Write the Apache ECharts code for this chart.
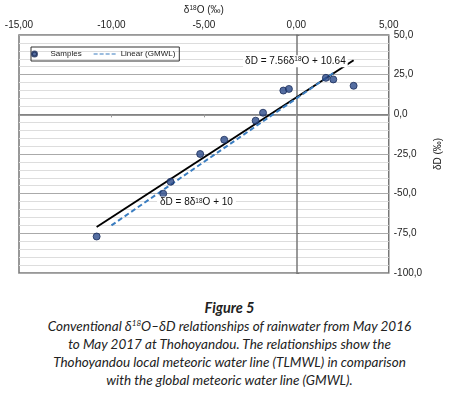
<!DOCTYPE html>
<html>
<head>
<meta charset="utf-8">
<script src="https://cdn.jsdelivr.net/npm/echarts@6/dist/echarts.min.js"></script>
<style>
  body { margin: 0; background: #fff; }
  #chart { position: absolute; left: 0; top: 0; width: 451px; height: 290px; }
  .caption {
    position: absolute; left: 4px; top: 299px; width: 451px;
    text-align: center; font-family: Lato, "Open Sans", sans-serif;
    font-style: italic; font-size: 13.5px; line-height: 18px; color: #222;
  }
  .caption b { font-size: 14.5px; }
  .caption sup { font-size: 8px; line-height: 0; }
</style>
</head>
<body>
<div id="chart"></div>
<div class="caption">
  <b>Figure 5</b><br>
  Conventional δ<sup>18</sup>O–δD relationships of rainwater from May 2016<br>
  to May 2017 at Thohoyandou. The relationships show the<br>
  Thohoyandou local meteoric water line (TLMWL) in comparison<br>
  with the global meteoric water line (GMWL).
</div>
<script>
// 样本数据 δ18O / δD (‰)
const sampleO18 = [-10.8, -7.2, -6.8, -5.2, -3.9, -2.2, -1.8, -0.7, -0.4, 1.6, 2.0, 3.1];
const sampleD = [-77, -50, -42.5, -25, -16, -4, 1, 15, 16, 23, 22, 18];

// TLMWL: δD = 7.56δ18O + 10.64 (端点)
const tlmwlX = [-10.8, 3.1];
const tlmwlY = [-71.0, 34.1];

// GMWL: δD = 8δ18O + 10 (端点)
const gmwlX = [-10.0, 2.0];
const gmwlY = [-70.0, 26.0];

const xTicks = { min: -15, max: 5, interval: 5 };
const yTicks = { min: -100, max: 50, interval: 25 };

const zip = (a, b) => a.map((v, i) => [v, b[i]]);

const myChart = echarts.init(document.getElementById("chart"));

const FONT = "'Liberation Sans', Arial, sans-serif";
const labelFont = { color: "#222", fontSize: 10, fontFamily: FONT };
// 上标样式
const supRich = { sup: { fontSize: 6.5, fontFamily: FONT, color: "#222", verticalAlign: "top", lineHeight: 8 } };

const dashIcon = "path://M0,0H4V1H0Z M6,0H10V1H6Z M12,0H16V1H12Z M18,0H22V1H18Z";

const option = {
  animation: false,
  grid: {
    left: 19, right: 45, top: 35, bottom: 17,
    show: true, borderColor: "#777", borderWidth: 1.5,
  },
  legend: {
    left: 31, top: 47,
    orient: "horizontal",
    data: [
      { name: "Samples", icon: "circle" },
      { name: "Linear (GMWL)", icon: dashIcon },
    ],
    borderColor: "#333", borderWidth: 1,
    padding: [3, 4, 3, 0],
    itemWidth: 22, itemHeight: 5, itemGap: 12,
    textStyle: { fontSize: 8, color: "#222", fontFamily: FONT },
  },
  xAxis: {
    type: "value",
    position: "top",
    min: xTicks.min, max: xTicks.max, interval: xTicks.interval,
    name: "δ{sup|18}O (‰)",
    nameLocation: "middle",
    nameGap: 20,
    nameTextStyle: { ...labelFont, rich: supRich },
    axisLine: { show: true, lineStyle: { color: "#777", width: 1.5 } },
    axisTick: { show: true, inside: true, length: 3, lineStyle: { color: "#999" } },
    axisLabel: { ...labelFont, margin: 5, formatter: (v) => v.toFixed(2).replace(".", ",") },
    splitLine: { show: false },
  },
  yAxis: {
    type: "value",
    position: "right",
    min: yTicks.min, max: yTicks.max, interval: yTicks.interval,
    name: "δD (‰)",
    nameLocation: "middle",
    nameRotate: 90,
    nameGap: 40,
    nameTextStyle: labelFont,
    axisLine: { show: true, lineStyle: { color: "#777", width: 1.5 } },
    axisTick: { show: true, length: 3, lineStyle: { color: "#777" } },
    axisLabel: { ...labelFont, margin: 5, formatter: (v) => v.toFixed(1).replace(".", ",") },
    splitLine: { show: true, lineStyle: { color: "#aaa", width: 1 } },
    minorTick: { show: false, splitNumber: 5 },
    minorSplitLine: { show: true, lineStyle: { color: "#ddd", width: 1 } },
  },
  series: [
    {
      name: "TLMWL",
      type: "line",
      data: zip(tlmwlX, tlmwlY),
      showSymbol: false,
      symbol: "none",
      lineStyle: { color: "#000", width: 2 },
      z: 3,
      markPoint: {
        symbol: "rect", symbolSize: 0,
        label: {
          show: true, position: "inside",
          formatter: "δD = 7.56δ{sup|18}O + 10.64",
          color: "#111", fontSize: 10, fontFamily: FONT,
          backgroundColor: "#fff", padding: [1, 2],
          rich: supRich,
        },
        data: [{ coord: [-0.05, 33.5] }],
      },
    },
    {
      name: "Linear (GMWL)",
      type: "line",
      data: zip(gmwlX, gmwlY),
      showSymbol: false,
      symbol: "none",
      itemStyle: { color: "#3a7dc0" },
      lineStyle: { color: "#3a7dc0", width: 2, type: [5, 3] },
      z: 3,
      markPoint: {
        symbol: "rect", symbolSize: 0,
        label: {
          show: true, position: "inside",
          formatter: "δD = 8δ{sup|18}O + 10",
          color: "#111", fontSize: 10, fontFamily: FONT,
          backgroundColor: "#fff", padding: [1, 3],
          rich: supRich,
        },
        data: [{ coord: [-5.4, -55.5] }],
      },
    },
    {
      name: "Samples",
      type: "scatter",
      data: zip(sampleO18, sampleD),
      symbol: "circle",
      symbolSize: 7,
      itemStyle: { color: "#2b4a8a", borderColor: "#1a2d5a", borderWidth: 1 },
      z: 4,
    },
  ],
};

myChart.setOption(option, true);
</script>
</body>
</html>
